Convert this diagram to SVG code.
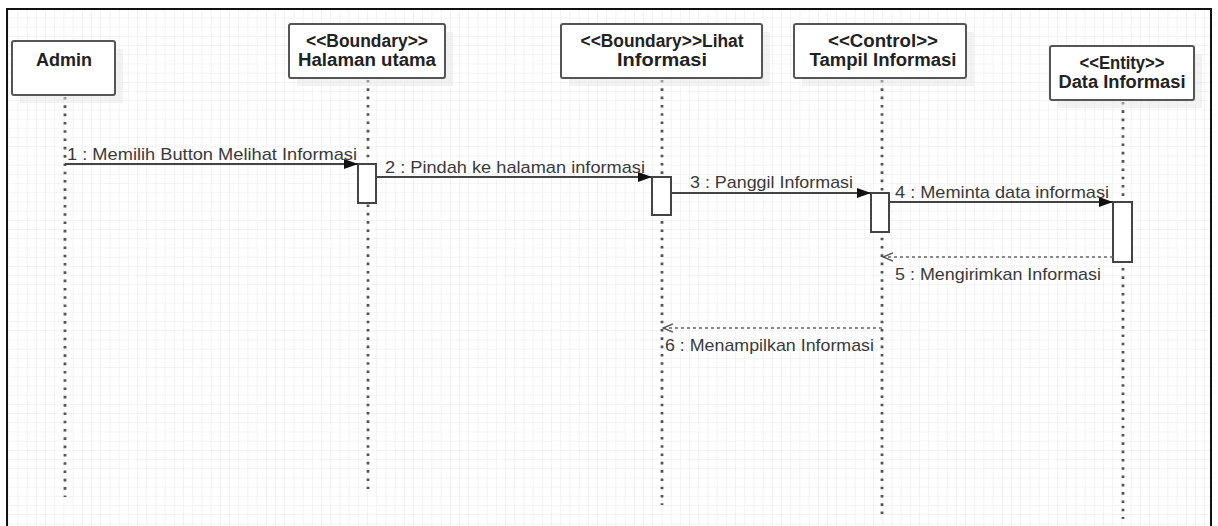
<svg xmlns="http://www.w3.org/2000/svg" width="1218" height="526" viewBox="0 0 1218 526">
  <style>
    .head { font-family: "Liberation Sans", Arial, sans-serif; font-size: 17.5px; font-weight: bold; fill: #222; text-anchor: middle; }
    .lbl { font-family: "Liberation Sans", Arial, sans-serif; font-size: 17px; fill: #3a3a3a; }
    .box { fill: #fff; stroke: #555; stroke-width: 2; }
    .shadow { fill: #e6e6e6; opacity: 0.5; }
    .life { stroke: #555; stroke-width: 2.8; stroke-dasharray: 2.6 5.7; fill: none; }
    .act { fill: #fff; stroke: #444; stroke-width: 2; }
    .call { stroke: #444; stroke-width: 2; fill: none; marker-end: url(#solidHead); }
    .ret { stroke: #666; stroke-width: 1.6; stroke-dasharray: 3 3; fill: none; marker-end: url(#openHead); }
  </style>
  <defs>
    <pattern id="grid" width="9.2" height="9.2" patternUnits="userSpaceOnUse">
      <path d="M9.2 0 V9.2 M0 9.2 H9.2" stroke="#e8e8e8" stroke-width="1" fill="none"/>
    </pattern>
    <marker id="solidHead" markerUnits="userSpaceOnUse" viewBox="0 0 14 10" refX="14" refY="5" markerWidth="14" markerHeight="10" orient="auto">
      <path d="M0,0 L14,5 L0,10 Z" fill="#111"/>
    </marker>
    <marker id="openHead" markerUnits="userSpaceOnUse" viewBox="0 0 12 10" refX="11" refY="5" markerWidth="12" markerHeight="10" orient="auto">
      <path d="M1,0.8 L11,5 L1,9.2" fill="none" stroke="#555" stroke-width="1.4"/>
    </marker>
  </defs>

  <!-- canvas and frame -->
  <rect x="0" y="0" width="1218" height="526" fill="#fff"/>
  <rect x="7" y="9" width="1204" height="520" fill="url(#grid)"/>
  <path d="M7,530 V9 H1211 V530" fill="none" stroke="#111" stroke-width="2"/>

  <!-- lifelines -->
  <g id="lifelines">
    <line class="life" x1="65" y1="97" x2="65" y2="497"/>
    <line class="life" x1="368" y1="80" x2="368" y2="489"/>
    <line class="life" x1="662" y1="80" x2="662" y2="505"/>
    <line class="life" x1="882" y1="80" x2="882" y2="514"/>
    <line class="life" x1="1123" y1="102" x2="1123" y2="519"/>
  </g>

  <!-- participants -->
  <g id="admin">
    <rect class="shadow" x="20" y="49" width="103" height="54"/>
    <rect class="box" x="12" y="41" width="103" height="54" rx="2"/>
    <text class="head" x="64" y="66" textLength="56" lengthAdjust="spacingAndGlyphs">Admin</text>
  </g>
  <g id="halaman-utama">
    <rect class="shadow" x="297" y="32" width="156" height="54"/>
    <rect class="box" x="289" y="24" width="156" height="54" rx="2"/>
    <text class="head" x="367" y="47" textLength="122" lengthAdjust="spacingAndGlyphs">&lt;&lt;Boundary&gt;&gt;</text>
    <text class="head" x="367" y="66" textLength="138" lengthAdjust="spacingAndGlyphs">Halaman utama</text>
  </g>
  <g id="lihat-informasi">
    <rect class="shadow" x="569" y="32" width="201" height="54"/>
    <rect class="box" x="561" y="24" width="201" height="54" rx="2"/>
    <text class="head" x="662" y="47" textLength="163" lengthAdjust="spacingAndGlyphs">&lt;&lt;Boundary&gt;&gt;Lihat</text>
    <text class="head" x="662" y="66" textLength="90" lengthAdjust="spacingAndGlyphs">Informasi</text>
  </g>
  <g id="tampil-informasi">
    <rect class="shadow" x="802" y="32" width="172" height="54"/>
    <rect class="box" x="794" y="24" width="172" height="54" rx="2"/>
    <text class="head" x="883" y="47" textLength="110" lengthAdjust="spacingAndGlyphs">&lt;&lt;Control&gt;&gt;</text>
    <text class="head" x="883" y="66" textLength="147" lengthAdjust="spacingAndGlyphs">Tampil Informasi</text>
  </g>
  <g id="data-informasi">
    <rect class="shadow" x="1058" y="54" width="144" height="54"/>
    <rect class="box" x="1050" y="46" width="144" height="54" rx="2"/>
    <text class="head" x="1122" y="69" textLength="85" lengthAdjust="spacingAndGlyphs">&lt;&lt;Entity&gt;&gt;</text>
    <text class="head" x="1122" y="88" textLength="127" lengthAdjust="spacingAndGlyphs">Data Informasi</text>
  </g>

  <!-- activation bars -->
  <g id="activations">
    <rect class="act" x="358" y="164" width="18" height="39"/>
    <rect class="act" x="652" y="177" width="19" height="38"/>
    <rect class="act" x="871" y="193" width="18" height="39"/>
    <rect class="act" x="1113" y="202" width="19" height="60"/>
  </g>

  <!-- messages -->
  <g id="connectors">
    <line class="call" x1="65" y1="164" x2="358" y2="164"/>
    <line class="call" x1="376" y1="177" x2="652" y2="177"/>
    <line class="call" x1="671" y1="193" x2="871" y2="193"/>
    <line class="call" x1="889" y1="202" x2="1113" y2="202"/>
    <line class="ret" x1="1113" y1="257" x2="883" y2="257"/>
    <line class="ret" x1="882" y1="328" x2="663" y2="328"/>
  </g>

  <g id="labels">
    <text class="lbl" x="67" y="160" textLength="290" lengthAdjust="spacingAndGlyphs">1 : Memilih Button Melihat Informasi</text>
    <text class="lbl" x="385" y="173" textLength="260" lengthAdjust="spacingAndGlyphs">2 : Pindah ke halaman informasi</text>
    <text class="lbl" x="690" y="188" textLength="163" lengthAdjust="spacingAndGlyphs">3 : Panggil Informasi</text>
    <text class="lbl" x="895" y="198" textLength="214" lengthAdjust="spacingAndGlyphs">4 : Meminta data informasi</text>
    <text class="lbl" x="895" y="280" textLength="206" lengthAdjust="spacingAndGlyphs">5 : Mengirimkan Informasi</text>
    <text class="lbl" x="665" y="351" textLength="209" lengthAdjust="spacingAndGlyphs">6 : Menampilkan Informasi</text>
  </g>
</svg>
